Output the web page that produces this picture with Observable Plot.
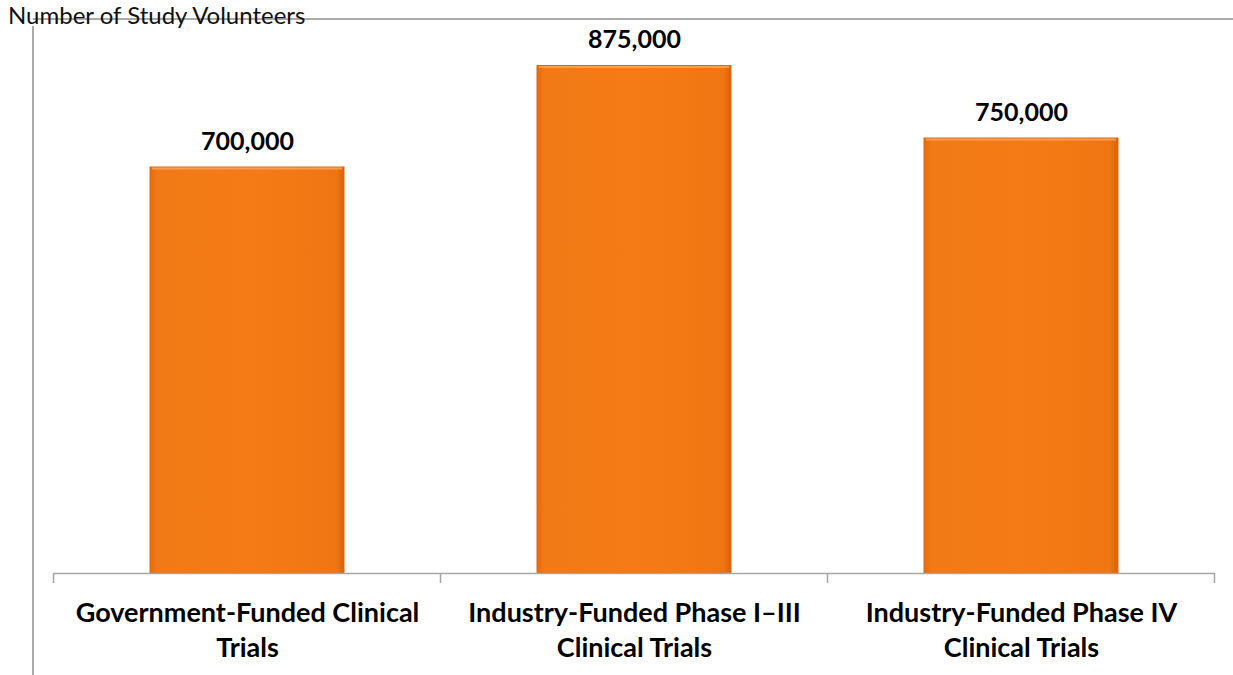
<!DOCTYPE html>
<html>
<head>
<meta charset="utf-8">
<script src="https://cdn.jsdelivr.net/npm/d3@7"></script>
<script src="https://cdn.jsdelivr.net/npm/@observablehq/plot@0.6"></script>
<style>
  html, body { margin: 0; padding: 0; background: #fff; }
  #wrap { position: relative; width: 1233px; height: 675px; overflow: hidden; font-family: Lato, "Open Sans", sans-serif; }
  #title { position: absolute; left: 8px; top: 0px; font-size: 24px; color: #111; z-index: 2; white-space: nowrap; }
  #topline { position: absolute; left: 33px; right: 0; top: 18px; border-top: 2px solid #ababab; z-index: 1; }
  #leftline { position: absolute; left: 32px; top: 26px; height: 660px; border-left: 2px solid #ababab; z-index: 1; }
  #chart { position: absolute; left: 0; top: 0; }
</style>
</head>
<body>
<div id="wrap">
  <div id="topline"></div>
  <div id="leftline"></div>
  <div id="title">Number of Study Volunteers</div>
  <div id="chart"></div>
</div>
<script>
const categories = [
  "Government-Funded Clinical Trials",
  "Industry-Funded Phase I–III Clinical Trials",
  "Industry-Funded Phase IV Clinical Trials"
];
const categoryLabels = [
  "Government-Funded Clinical\nTrials",
  "Industry-Funded Phase I–III\nClinical Trials",
  "Industry-Funded Phase IV\nClinical Trials"
];
const volunteers = [700000, 875000, 750000];

const data = categories.map((c, i) => ({category: c, label: categoryLabels[i], value: volunteers[i]}));

const paddingInner = 0.5, paddingOuter = 0.25;

const plot = Plot.plot({
  width: 1233,
  height: 675,
  marginLeft: 53,
  marginRight: 18,
  marginTop: 0,
  marginBottom: 0,
  style: {background: "transparent", fontFamily: "Lato, 'Open Sans', sans-serif"},
  x: {domain: categories, paddingInner, paddingOuter, axis: null},
  y: {domain: [0, 1000000], range: [573, -7], axis: null},
  marks: [
    Plot.barY(data, {x: "category", y: "value", fill: "url(#barGrad)", stroke: "#e2690f", strokeWidth: 1}),
    Plot.ruleY([0], {stroke: "#a6a6a6", strokeWidth: 1.5}),
    Plot.text(data, {x: "category", y: "value", text: d => d3.format(",")(d.value), lineAnchor: "bottom", dy: -18,
      fontSize: 25, fontWeight: "bold", fill: "#000"}),
    Plot.text(data, {x: "category", y: 0, text: "label", lineAnchor: "top", dy: 24, lineHeight: 1.296,
      fontSize: 27, fontWeight: "bold", fill: "#000"})
  ]
});

const svg = d3.select(plot);
const defs = svg.insert("defs", ":first-child");
const g = defs.append("linearGradient").attr("id", "barGrad").attr("x1", "0").attr("x2", "1").attr("y1", "0").attr("y2", "0");
[[0, "#e46c0e"], [0.04, "#f27a16"], [0.5, "#f47b16"], [0.96, "#f07613"], [1, "#d6620b"]]
  .forEach(([o, c]) => g.append("stop").attr("offset", o).attr("stop-color", c));

// category separator ticks at band boundaries, from the plot's own x scale
const xs = plot.scale("x");
const ys = plot.scale("y");
const step = xs.step, bw = xs.bandwidth;
const bounds = categories.map(c => xs.apply(c) - (step - bw) / 2);
bounds.push(xs.apply(categories[categories.length - 1]) + bw + (step - bw) / 2);
const y0 = ys.apply(0);
svg.append("g").selectAll("line").data(bounds).join("line")
  .attr("x1", d => d).attr("x2", d => d)
  .attr("y1", y0).attr("y2", y0 + 10)
  .attr("stroke", "#a6a6a6").attr("stroke-width", 1.5);

// top highlight on bars
svg.append("g").selectAll("line").data(data).join("line")
  .attr("x1", d => xs.apply(d.category) + 2).attr("x2", d => xs.apply(d.category) + bw - 2)
  .attr("y1", d => ys.apply(d.value) + 1.5).attr("y2", d => ys.apply(d.value) + 1.5)
  .attr("stroke", "#f9a860").attr("stroke-width", 2).attr("opacity", 0.8);

document.getElementById("chart").appendChild(plot);
</script>
</body>
</html>
